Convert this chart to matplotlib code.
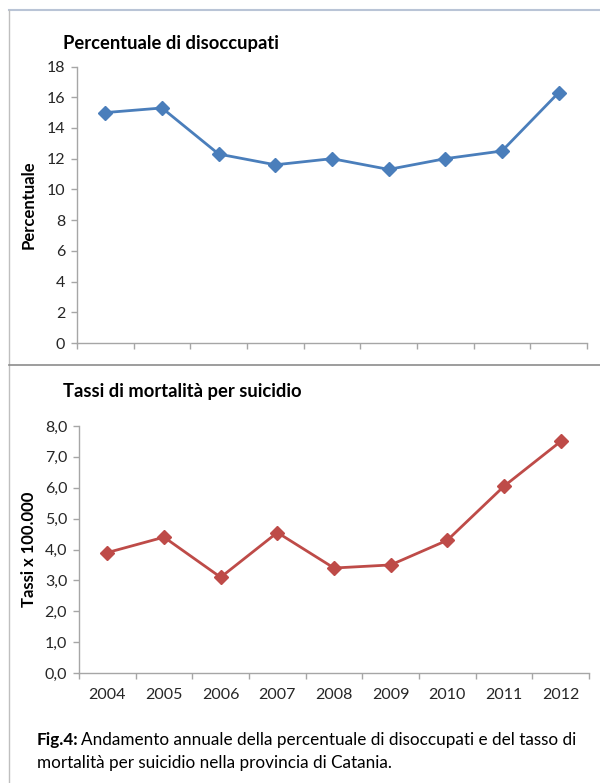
import matplotlib
matplotlib.use("Agg")
import matplotlib.pyplot as plt
from matplotlib.lines import Line2D

plt.rcParams['font.family'] = ['Lato', 'DejaVu Sans']

years = ["2004", "2005", "2006", "2007", "2008", "2009", "2010", "2011", "2012"]
unemployed_pct = [15.0, 15.3, 12.3, 11.6, 12.0, 11.3, 12.0, 12.5, 16.3]
suicide_rate = [3.9, 4.4, 3.1, 4.55, 3.4, 3.5, 4.3, 6.05, 7.5]

W, H = 600, 783
fig = plt.figure(figsize=(W / 100, H / 100), dpi=100)

BLUE = "#4A7EBB"
RED = "#BE4B48"
AXIS_GRAY = "#A6A6A6"
TEXT = "#262626"


def px_axes(x0, y0, x1, y1):
    """Axes from pixel box (top-left origin)."""
    return fig.add_axes([x0 / W, 1 - y1 / H, (x1 - x0) / W, (y1 - y0) / H])


def style_axes(ax, ymax, step, fmt, show_xlabels):
    n = len(years)
    ax.set_xlim(-0.5, n - 0.5)
    ax.set_ylim(0, ymax)
    ticks = [i * step for i in range(int(round(ymax / step)) + 1)]
    ax.set_yticks(ticks)
    ax.set_yticklabels([fmt(t) for t in ticks])
    ax.set_xticks([i - 0.5 for i in range(n + 1)])
    ax.set_xticklabels([])
    ax.set_xticks(range(n), minor=True)
    ax.tick_params(axis='x', which='minor', length=0, pad=11, labelsize=11.5,
                   labelcolor=TEXT)
    if show_xlabels:
        ax.set_xticklabels(years, minor=True)
    for s in ("top", "right"):
        ax.spines[s].set_visible(False)
    for s in ("left", "bottom"):
        ax.spines[s].set_color(AXIS_GRAY)
        ax.spines[s].set_linewidth(1.0)
    ax.tick_params(axis='both', which='major', direction='out', length=4.5,
                   width=1.0, color=AXIS_GRAY, labelsize=11.5, labelcolor=TEXT,
                   pad=4)
    ax.patch.set_alpha(0)


# Unemployment panel
ax1 = px_axes(77, 66.5, 587, 343)
ax1.plot(range(len(years)), unemployed_pct, color=BLUE, lw=2.0, marker='D',
         markersize=7.5, markerfacecolor=BLUE, markeredgecolor=BLUE)
style_axes(ax1, 18, 2, lambda v: f"{int(v)}", False)
ax1.set_ylabel("Percentuale", fontsize=12, fontweight='bold', color="#000000")
ax1.yaxis.set_label_coords(-40 / 510, 0.5)

# Suicide-rate panel
ax2 = px_axes(79, 426, 589, 673)
ax2.plot(range(len(years)), suicide_rate, color=RED, lw=2.0, marker='D',
         markersize=7.5, markerfacecolor=RED, markeredgecolor=RED)
style_axes(ax2, 8.0, 1.0, lambda v: f"{v:.1f}".replace(".", ","), True)
ax2.set_ylabel("Tassi x 100.000", fontsize=12, fontweight='bold', color="#000000")
ax2.yaxis.set_label_coords(-42 / 510, 0.5)

# Panel titles
fig.text(63 / W, 1 - 44 / H, "Percentuale di disoccupati", fontsize=13.2,
         fontweight='bold', color="#000000", va='center', ha='left')
fig.text(63 / W, 1 - 392 / H, "Tassi di mortalità per suicidio", fontsize=13.2,
         fontweight='bold', color="#000000", va='center', ha='left')

# Panel frames
frame_kw = dict(transform=fig.transFigure, clip_on=False)
fig.add_artist(Line2D([9 / W, 1], [1 - 10 / H, 1 - 10 / H], color="#B9C4D6",
                      lw=1.5, **frame_kw))
fig.add_artist(Line2D([9 / W, 9 / W], [1 - 10 / H, 0], color="#BFBFBF",
                      lw=1.0, **frame_kw))
fig.add_artist(Line2D([9 / W, 1], [1 - 365 / H, 1 - 365 / H], color="#8C8C8C",
                      lw=1.2, **frame_kw))

# Caption
fig.canvas.draw()
renderer = fig.canvas.get_renderer()
cap_y1 = 1 - 745 / H
cap_y2 = 1 - 768 / H
bold = fig.text(37 / W, cap_y1, "Fig.4:", fontsize=12.3, fontweight='bold',
                color="#000000", va='baseline', ha='left')
bb = bold.get_window_extent(renderer)
fig.text((bb.x1 + 2) / W, cap_y1,
         "Andamento annuale della percentuale di disoccupati e del tasso di",
         fontsize=12.3, color="#000000", va='baseline', ha='left')
fig.text(37 / W, cap_y2, "mortalità per suicidio nella provincia di Catania.",
         fontsize=12.3, color="#000000", va='baseline', ha='left')

fig.savefig("out.png", dpi=100)
